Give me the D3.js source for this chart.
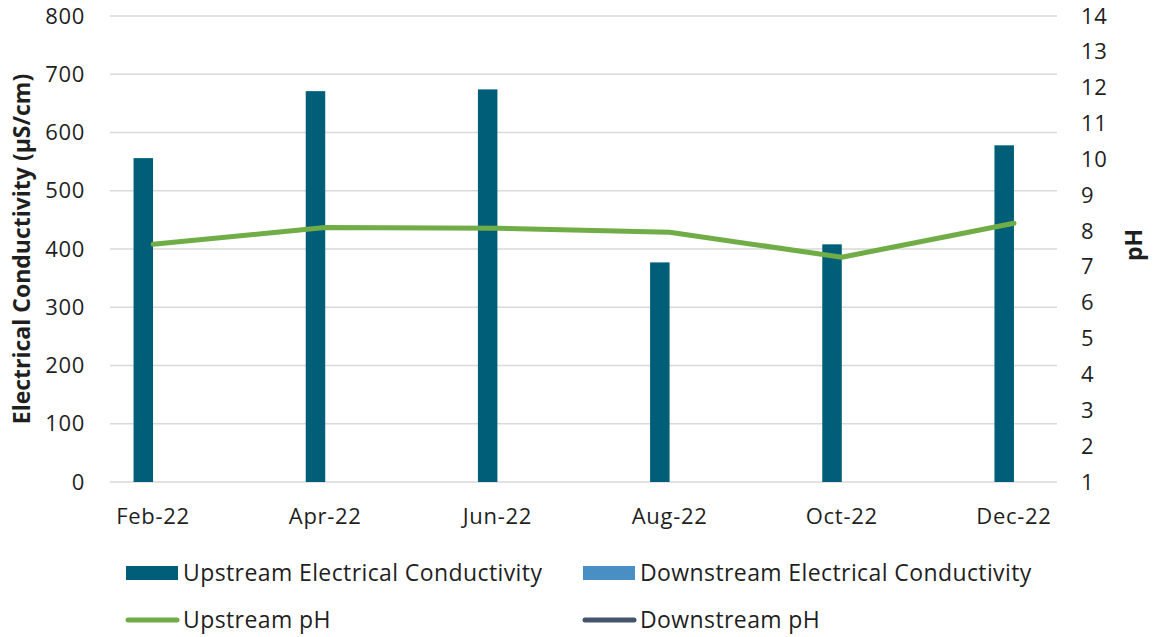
<!DOCTYPE html>
<html>
<head>
<meta charset="utf-8">
<script src="https://cdn.jsdelivr.net/npm/d3@7"></script>
<style>
  html, body { margin: 0; padding: 0; background: #fff; }
  svg { display: block; font-family: "Open Sans", sans-serif; }
</style>
</head>
<body>
<svg id="chart" width="1153" height="637"></svg>
<script>
// ---- data ----
const months = ["Feb-22","Mar-22","Apr-22","May-22","Jun-22","Jul-22","Aug-22","Sep-22","Oct-22","Nov-22","Dec-22"];
const categories = ["Feb-22","Apr-22","Jun-22","Aug-22","Oct-22","Dec-22"];
const upstreamEC = [556, 671, 674, 377, 408, 578];
const downstreamEC = [null, null, null, null, null, null];
const upstreamPH = [7.63, 8.10, 8.08, 7.97, 7.27, 8.22];
const downstreamPH = [null, null, null, null, null, null];
const ecTicks = [0, 100, 200, 300, 400, 500, 600, 700, 800];
const phTicks = [1, 2, 3, 4, 5, 6, 7, 8, 9, 10, 11, 12, 13, 14];
const seriesNames = ["Upstream Electrical Conductivity", "Downstream Electrical Conductivity", "Upstream pH", "Downstream pH"];

// ---- styles ----
const colUpEC = "#005E78", colDownEC = "#4A8FC4", colUpPH = "#70AD47", colDownPH = "#44546A";
const textCol = "#1f1f1f";

const svg = d3.select("#chart");
const plot = { left: 110, right: 1057, top: 16, bottom: 482 };

const x = d3.scaleBand().domain(months).range([plot.left, plot.right]).padding(0);
const yEC = d3.scaleLinear().domain([0, 800]).range([plot.bottom, plot.top]);
const yPH = d3.scaleLinear().domain([1, 14]).range([plot.bottom, plot.top]);
const clusterW = 39;
const inner = d3.scaleBand().domain(["up", "down"]).range([0, clusterW]).padding(0);
const cx = c => x(c) + x.bandwidth() / 2;

// gridlines
svg.append("g").selectAll("line").data(ecTicks).join("line")
  .attr("x1", plot.left).attr("x2", plot.right)
  .attr("y1", d => yEC(d)).attr("y2", d => yEC(d))
  .attr("stroke", "#d9d9d9").attr("stroke-width", 1.3);

function styleTicks(g) {
  g.select(".domain").remove();
  g.selectAll("text").attr("font-size", 22).attr("letter-spacing", 0.7)
    .attr("fill", textCol).attr("font-family", "Open Sans, sans-serif");
}

// left axis
svg.append("g").attr("transform", `translate(${plot.left},0)`)
  .call(d3.axisLeft(yEC).tickValues(ecTicks).tickSize(0).tickPadding(25))
  .call(styleTicks);

// right axis
svg.append("g").attr("transform", `translate(${plot.right},0)`)
  .call(d3.axisRight(yPH).tickValues(phTicks).tickSize(0).tickPadding(24))
  .call(styleTicks);

// bottom axis
svg.append("g").attr("transform", `translate(0,${plot.bottom})`)
  .call(d3.axisBottom(x).tickValues(categories).tickSize(0).tickPadding(26))
  .call(styleTicks);

// bars
const barData = [];
categories.forEach((c, i) => {
  barData.push({ c, key: "up", v: upstreamEC[i], color: colUpEC });
  barData.push({ c, key: "down", v: downstreamEC[i], color: colDownEC });
});
svg.append("g").selectAll("rect").data(barData.filter(d => d.v != null)).join("rect")
  .attr("x", d => cx(d.c) - clusterW / 2 + inner(d.key))
  .attr("width", inner.bandwidth())
  .attr("y", d => yEC(d.v))
  .attr("height", d => yEC(0) - yEC(d.v))
  .attr("fill", d => d.color);

// lines
const line = d3.line().defined(d => d.v != null).x(d => cx(d.c)).y(d => yPH(d.v));
svg.append("path").datum(categories.map((c, i) => ({ c, v: upstreamPH[i] })))
  .attr("d", line).attr("fill", "none").attr("stroke", colUpPH)
  .attr("stroke-width", 5).attr("stroke-linecap", "round").attr("stroke-linejoin", "round");
svg.append("path").datum(categories.map((c, i) => ({ c, v: downstreamPH[i] })))
  .attr("d", line).attr("fill", "none").attr("stroke", colDownPH)
  .attr("stroke-width", 5).attr("stroke-linecap", "round").attr("stroke-linejoin", "round");

// axis titles
svg.append("text").attr("transform", `translate(30,${(plot.top + plot.bottom) / 2}) rotate(-90)`)
  .attr("text-anchor", "middle").attr("font-size", 23).attr("font-weight", "bold").attr("fill", textCol)
  .text("Electrical Conductivity  (µS/cm)");
svg.append("text").attr("transform", `translate(1142,245) rotate(-90)`)
  .attr("text-anchor", "middle").attr("font-size", 23).attr("font-weight", "bold").attr("fill", textCol)
  .text("pH");

// legend
const legend = [
  { name: seriesNames[0], type: "rect", color: colUpEC, x: 126, y: 573 },
  { name: seriesNames[1], type: "rect", color: colDownEC, x: 583, y: 573 },
  { name: seriesNames[2], type: "line", color: colUpPH, x: 126, y: 620 },
  { name: seriesNames[3], type: "line", color: colDownPH, x: 583, y: 620 }
];
const lg = svg.append("g").selectAll("g").data(legend).join("g")
  .attr("transform", d => `translate(${d.x},${d.y})`);
lg.filter(d => d.type === "rect").append("rect")
  .attr("x", 0).attr("y", -7).attr("width", 52).attr("height", 14).attr("fill", d => d.color);
lg.filter(d => d.type === "line").append("line")
  .attr("x1", 2).attr("x2", 51).attr("y1", 0).attr("y2", 0)
  .attr("stroke", d => d.color).attr("stroke-width", 5).attr("stroke-linecap", "round");
lg.append("text").attr("x", 57).attr("y", 0).attr("dy", "0.35em")
  .attr("font-size", 23).attr("letter-spacing", 0.4).attr("fill", textCol).text(d => d.name);
</script>
</body>
</html>
